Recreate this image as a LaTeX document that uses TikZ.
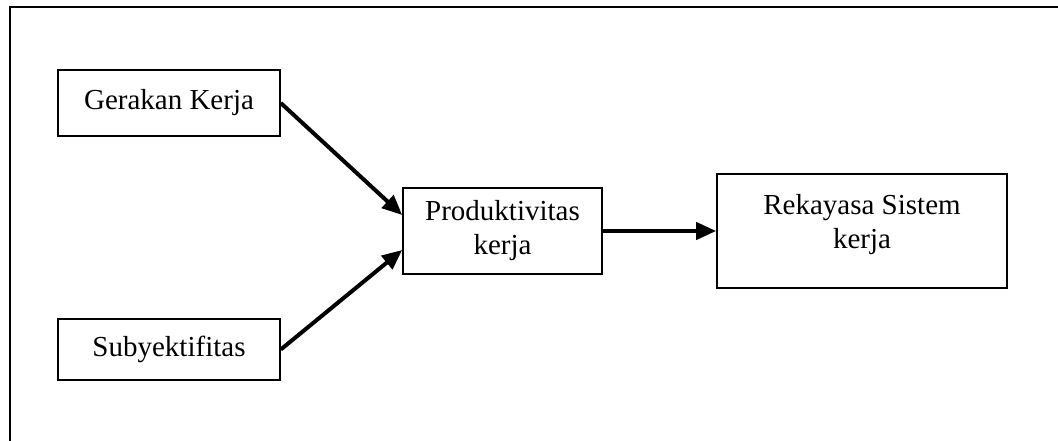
\documentclass[tikz,border=0pt]{standalone}
\usepackage{fontspec}
\setmainfont{Liberation Serif}
\usetikzlibrary{arrows.meta, positioning}
\tikzstyle{box} = [rectangle, draw, line width=1.6pt, align=center, inner sep=0pt]
\tikzstyle{arrow} = [line width=4pt, -{Triangle[length=20pt,width=17pt]}]

\begin{document}
\begin{tikzpicture}[x=1pt, y=-1pt, font=\fontsize{29}{34}\selectfont]
\useasboundingbox (0,0) rectangle (1058,441);
\draw [line width=2pt] (1058,7) -- (10,7) -- (10,441);
\node [box, minimum width=222pt, minimum height=66pt] (gerakan) at (169,103) {Gerakan Kerja};
\node [box, minimum width=222pt, minimum height=61pt] (subyek) at (169,349.5) {Subyektifitas};
\node [box, minimum width=199pt, minimum height=86pt] (produk) at (502.5,231) {Produktivitas\\kerja};
\node [box, minimum width=290pt, minimum height=114pt] (rekayasa) at (862,231) {Rekayasa Sistem\\kerja\\[-14pt]\mbox{}};
\draw [arrow] (gerakan.east) -- ([yshift=16pt]produk.west);
\draw [arrow] (subyek.east) -- ([yshift=-19pt]produk.west);
\draw [arrow] (produk.east) -- (rekayasa.west);
\end{tikzpicture}
\end{document}
